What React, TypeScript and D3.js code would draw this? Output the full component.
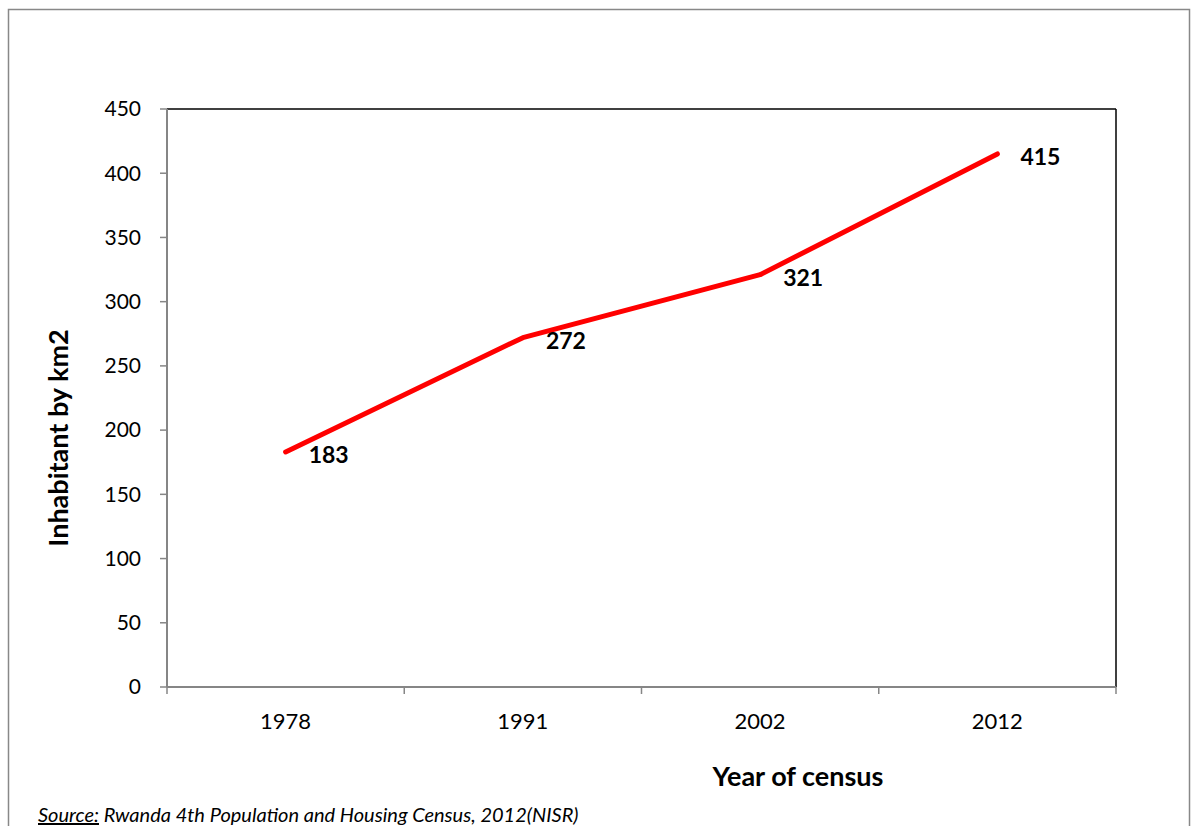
import * as React from "react";
import * as d3 from "d3";

const years = ["1978", "1991", "2002", "2012"];
const density = [183, 272, 321, 415];
const yTicks = [0, 50, 100, 150, 200, 250, 300, 350, 400, 450];

const W = 1192;
const H = 826;
const plot = { left: 167, right: 1116, top: 109, bottom: 687 };
const font = "Lato, 'Open Sans', sans-serif";

export default function App() {
  const x = d3.scaleBand<string>()
    .domain(years)
    .range([plot.left, plot.right])
    .paddingInner(0)
    .paddingOuter(0);

  const y = d3.scaleLinear()
    .domain([0, 450])
    .range([plot.bottom, plot.top]);

  const cx = (yr: string) => (x(yr) ?? 0) + x.bandwidth() / 2;

  const line = d3.line<number>()
    .x((_, i) => cx(years[i]))
    .y(d => y(d));

  // tick marks between categories
  const bounds = years.map(yr => x(yr) ?? 0).concat([plot.right]);

  return (
    <div style={{ position: "absolute", left: 0, top: 0 }}>
      <svg width={W} height={H} style={{ display: "block", fontFamily: font }}>
        <rect x={0} y={0} width={W} height={H} fill="#fff" />
        {/* outer frame */}
        <rect x={8.5} y={9.5} width={1181} height={830} fill="none" stroke="#888" strokeWidth={1.5} />

        {/* plot frame: top and right black */}
        <line x1={plot.left} x2={plot.right} y1={plot.top} y2={plot.top} stroke="#000" strokeWidth={1.5} />
        <line x1={plot.right} x2={plot.right} y1={plot.top} y2={plot.bottom} stroke="#000" strokeWidth={1.5} />

        {/* y axis */}
        <line x1={plot.left} x2={plot.left} y1={plot.top} y2={plot.bottom} stroke="#868686" strokeWidth={2} />
        {yTicks.map(t => (
          <g key={t}>
            <line x1={plot.left - 7} x2={plot.left} y1={y(t)} y2={y(t)} stroke="#868686" strokeWidth={1.5} />
            <text x={141} y={y(t)} dy="0.35em" textAnchor="end" fontSize={21} fill="#000">{t}</text>
          </g>
        ))}

        {/* x axis */}
        <line x1={plot.left} x2={plot.right} y1={plot.bottom} y2={plot.bottom} stroke="#868686" strokeWidth={2} />
        {bounds.map((b, i) => (
          <line key={i} x1={b} x2={b} y1={plot.bottom} y2={plot.bottom + 7} stroke="#868686" strokeWidth={1.5} />
        ))}
        {years.map(yr => (
          <text key={yr} x={cx(yr)} y={729} textAnchor="middle" fontSize={22} fill="#000">{yr}</text>
        ))}

        {/* series */}
        <path d={line(density) ?? ""} fill="none" stroke="#ff0000" strokeWidth={5} strokeLinecap="round" strokeLinejoin="round" />
        {density.map((v, i) => (
          <text key={i} x={cx(years[i]) + 23} y={y(v) + 3} dy="0.35em" fontSize={23} fontWeight="bold" fill="#000">{v}</text>
        ))}

        {/* axis titles */}
        <text transform={`translate(68,438) rotate(-90)`} textAnchor="middle" fontSize={27} fontWeight="bold" fill="#000">Inhabitant by km2</text>
        <text x={798} y={786} textAnchor="middle" fontSize={27} fontWeight="bold" fill="#000">Year of census</text>

        {/* source */}
        <text x={38} y={822} fontSize={20} fontStyle="italic" fill="#000">
          <tspan textDecoration="underline">Source:</tspan>
          <tspan> Rwanda 4th Population and Housing Census, 2012(NISR)</tspan>
        </text>
      </svg>
    </div>
  );
}
